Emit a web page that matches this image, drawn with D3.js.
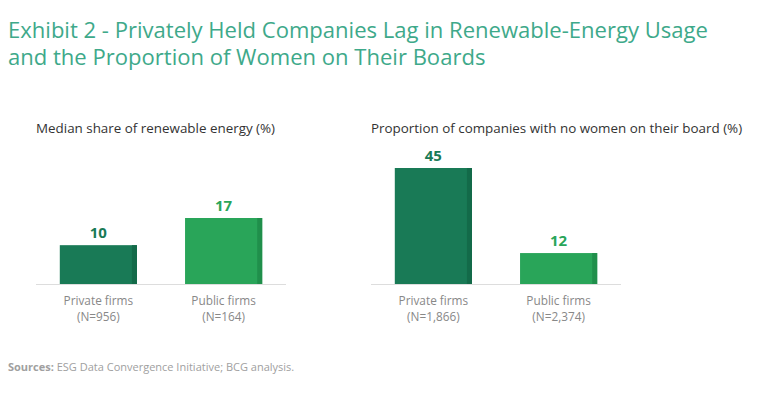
<!DOCTYPE html>
<html>
<head>
<meta charset="utf-8">
<script src="https://cdn.jsdelivr.net/npm/d3@7"></script>
<style>
  body { margin: 0; background: #fff; }
  svg { display: block; font-family: "Open Sans", "Noto Sans", sans-serif; }
</style>
</head>
<body>
<svg id="chart" width="768" height="399"></svg>
<script>
const titleLines = [
  "Exhibit 2 - Privately Held Companies Lag in Renewable-Energy Usage",
  "and the Proportion of Women on Their Boards"
];
const categories = ["Private firms", "Public firms"];
const renewableValues = [10, 17];
const renewableN = ["(N=956)", "(N=164)"];
const noWomenValues = [45, 12];
const noWomenN = ["(N=1,866)", "(N=2,374)"];
const panelTitles = ["Median share of renewable energy (%)", "Proportion of companies with no women on their board (%)"];

const svg = d3.select("#chart");
const barColors = ["#197a56", "#29a559"];
const stripColors = ["#136a49", "#208f4b"];

// title
svg.selectAll("text.title")
  .data(titleLines)
  .enter()
  .append("text")
  .attr("class", "title")
  .attr("x", 8)
  .attr("y", (d, i) => 38 + i * 27)
  .attr("fill", "#3ea98a")
  .style("font-size", "22px")
  .text(d => d);

// fit title width to the reference
const first = svg.select("text.title").node();
const w = first.getComputedTextLength();
const fs = 22 * 700 / w;
svg.selectAll("text.title").style("font-size", fs + "px");

const baseline = 284;
const panels = [
  { x0: 36, x1: 286, values: renewableValues, ns: renewableN, title: panelTitles[0], maxH: 66 },
  { x0: 371, x1: 621, values: noWomenValues, ns: noWomenN, title: panelTitles[1], maxH: 116 }
];

panels.forEach(p => {
  const g = svg.append("g");

  g.append("text")
    .attr("x", p.x0)
    .attr("y", 133)
    .attr("fill", "#333")
    .style("font-size", "13.4px")
    .text(p.title);

  const x = d3.scaleBand()
    .domain(categories)
    .range([p.x0, p.x1])
    .paddingInner(0.384)
    .paddingOuter(0.19);

  const y = d3.scaleLinear()
    .domain([0, d3.max(p.values)])
    .range([baseline, baseline - p.maxH]);

  const bars = g.selectAll("g.bar")
    .data(p.values)
    .enter()
    .append("g")
    .attr("class", "bar");

  bars.append("rect")
    .attr("x", (d, i) => x(categories[i]))
    .attr("y", d => y(d))
    .attr("width", x.bandwidth())
    .attr("height", d => baseline - y(d))
    .attr("fill", (d, i) => barColors[i]);

  bars.append("rect")
    .attr("x", (d, i) => x(categories[i]) + x.bandwidth() - 5)
    .attr("y", d => y(d))
    .attr("width", 5)
    .attr("height", d => baseline - y(d))
    .attr("fill", (d, i) => stripColors[i]);

  bars.append("text")
    .attr("x", (d, i) => x(categories[i]) + x.bandwidth() / 2)
    .attr("y", d => y(d) - 7)
    .attr("text-anchor", "middle")
    .attr("fill", (d, i) => barColors[i])
    .style("font-size", "15px")
    .style("font-weight", "bold")
    .text(d => d);

  g.append("line")
    .attr("x1", p.x0)
    .attr("x2", p.x1)
    .attr("y1", baseline + 0.5)
    .attr("y2", baseline + 0.5)
    .attr("stroke", "#dddddd");

  g.selectAll("text.cat")
    .data(categories)
    .enter()
    .append("text")
    .attr("class", "cat")
    .attr("x", d => x(d) + x.bandwidth() / 2)
    .attr("y", 305)
    .attr("text-anchor", "middle")
    .attr("fill", "#888")
    .style("font-size", "11.8px")
    .text(d => d);

  g.selectAll("text.n")
    .data(p.ns)
    .enter()
    .append("text")
    .attr("class", "n")
    .attr("x", (d, i) => x(categories[i]) + x.bandwidth() / 2)
    .attr("y", 321)
    .attr("text-anchor", "middle")
    .attr("fill", "#888")
    .style("font-size", "11.8px")
    .text(d => d);
});

// sources
const src = svg.append("text")
  .attr("x", 8)
  .attr("y", 371)
  .attr("fill", "#a0a0a0")
  .style("font-size", "11px");
src.append("tspan").style("font-weight", "bold").text("Sources:");
src.append("tspan").text(" ESG Data Convergence Initiative; BCG analysis.");
</script>
</body>
</html>
